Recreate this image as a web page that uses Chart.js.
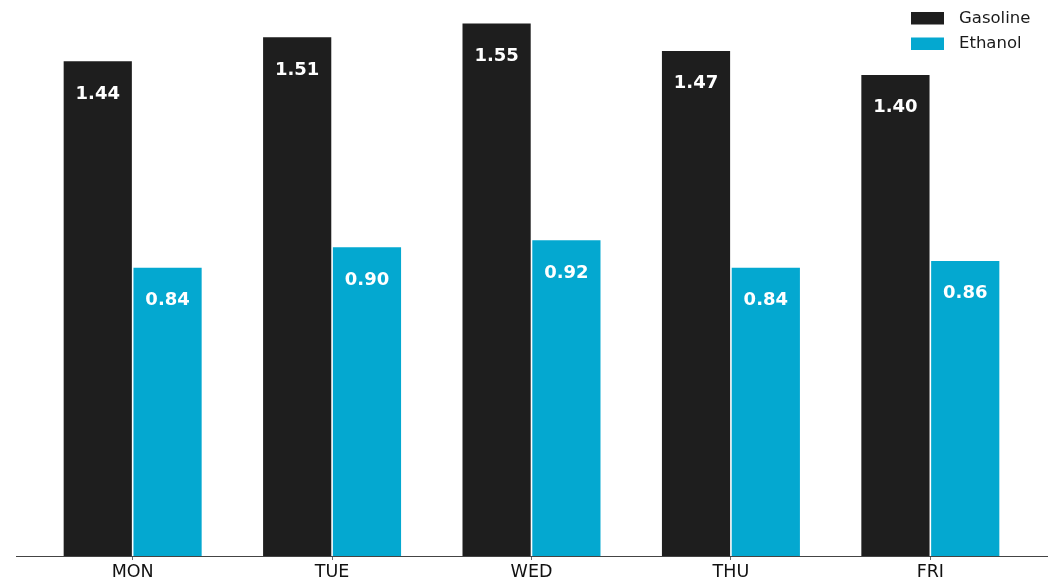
<!DOCTYPE html>
<html>
<head>
<meta charset="utf-8">
<script src="https://cdn.jsdelivr.net/npm/chart.js@4/dist/chart.umd.min.js"></script>
<style>
  html, body { margin: 0; padding: 0; background: #ffffff; }
  #wrap { width: 1049px; height: 581px; }
</style>
</head>
<body>
<div id="wrap"><canvas id="c" width="1049" height="581"></canvas></div>
<script>
// Daily prices by fuel type
const days = ['MON', 'TUE', 'WED', 'THU', 'FRI'];
const gasoline = [1.44, 1.51, 1.55, 1.47, 1.40];
const ethanol = [0.84, 0.90, 0.92, 0.84, 0.86];
const seriesNames = ['Gasoline', 'Ethanol'];

const FONT = "'DejaVu Sans', sans-serif";
const COLORS = ['#1e1e1e', '#04a8d0'];

const toPoints = (vals) => vals.map((v, i) => ({ x: i, y: v }));

// White value labels just inside the top of every bar
const valueLabels = {
  id: 'valueLabels',
  afterDatasetsDraw(chart) {
    const ctx = chart.ctx;
    ctx.save();
    ctx.fillStyle = '#ffffff';
    ctx.font = 'bold 18px ' + FONT;
    ctx.textAlign = 'center';
    ctx.textBaseline = 'middle';
    chart.data.datasets.forEach((ds, di) => {
      chart.getDatasetMeta(di).data.forEach((bar, i) => {
        ctx.fillText(ds.data[i].y.toFixed(2), bar.x, bar.y + 33.5);
      });
    });
    ctx.restore();
  }
};

// Legend in the upper right corner, boxes to the left of the names
const cornerLegend = {
  id: 'cornerLegend',
  afterDraw(chart) {
    const ctx = chart.ctx;
    ctx.save();
    ctx.font = '16.5px ' + FONT;
    ctx.textAlign = 'left';
    ctx.textBaseline = 'middle';
    chart.data.datasets.forEach((ds, i) => {
      const y = 12 + i * 25.5;
      ctx.fillStyle = ds.backgroundColor;
      ctx.fillRect(911, y, 33, 12.5);
      ctx.fillStyle = '#1a1a1a';
      ctx.fillText(ds.label, 959, y + 6.5);
    });
    ctx.restore();
  }
};

new Chart(document.getElementById('c'), {
  type: 'bar',
  data: {
    datasets: [
      {
        label: seriesNames[0],
        data: toPoints(gasoline),
        backgroundColor: COLORS[0],
        borderColor: 'rgba(255,255,255,0.12)',
        borderWidth: 0.8
      },
      {
        label: seriesNames[1],
        data: toPoints(ethanol),
        backgroundColor: COLORS[1],
        borderColor: 'rgba(255,255,255,0.12)',
        borderWidth: 0.8
      }
    ]
  },
  options: {
    responsive: false,
    animation: false,
    devicePixelRatio: 1,
    categoryPercentage: 0.7,
    barPercentage: 1.0,
    layout: { padding: { left: 16, right: 2, top: 0, bottom: 0 } },
    plugins: {
      legend: { display: false },
      tooltip: { enabled: false }
    },
    scales: {
      x: {
        type: 'linear',
        offset: false,
        min: -0.585,
        max: 4.585,
        afterBuildTicks(scale) {
          scale.ticks = days.map((_, i) => ({ value: i }));
        },
        afterFit(scale) {
          scale.height = 25;
        },
        ticks: {
          autoSkip: false,
          maxRotation: 0,
          padding: 2,
          color: '#111111',
          font: { family: FONT, size: 17.5 },
          callback: (v) => days[v]
        },
        grid: {
          display: true,
          offset: false,
          drawOnChartArea: false,
          drawTicks: true,
          tickLength: 4,
          tickColor: '#444444',
          tickWidth: 0.8
        },
        border: { display: true, color: '#444444', width: 1 }
      },
      y: {
        display: false,
        min: 0,
        max: 1.616
      }
    }
  },
  plugins: [valueLabels, cornerLegend]
});
</script>
</body>
</html>
